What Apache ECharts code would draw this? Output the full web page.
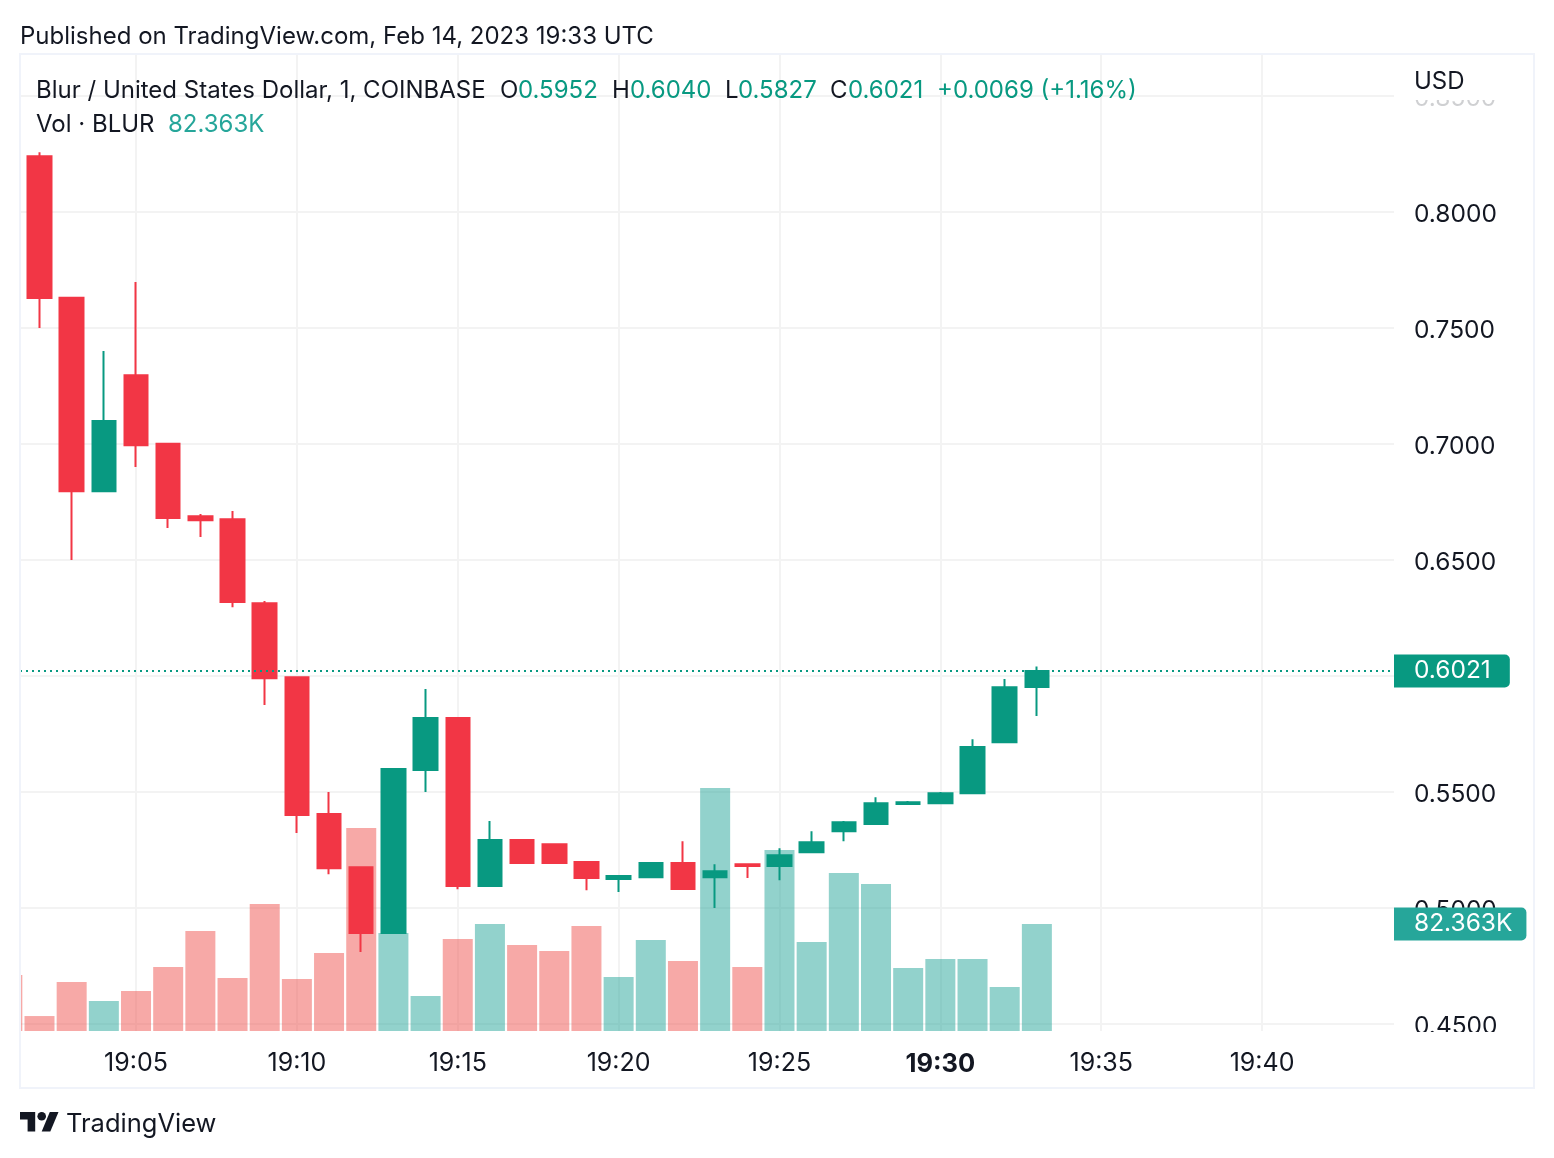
<!DOCTYPE html>
<html>
<head>
<meta charset="utf-8">
<style>
  html, body { margin: 0; padding: 0; background: #fff; }
  #chart { width: 1554px; height: 1158px; }
</style>
<script src="https://cdn.jsdelivr.net/npm/echarts@6/dist/echarts.min.js"></script>
</head>
<body>
<div id="chart"></div>
<script>
const FONT = "Inter";
const TEXT = "#131722";
const UP = "#089981";
const DOWN = "#f23645";

// minute past 19:00, open, close, low, high
const candles = [
  [2, 0.8240, 0.7629, 0.7499, 0.8257],
  [3, 0.7630, 0.6796, 0.6499, 0.7630],
  [4, 0.6796, 0.7098, 0.6796, 0.7400],
  [5, 0.7296, 0.6994, 0.6900, 0.7697],
  [6, 0.7000, 0.6680, 0.6637, 0.7000],
  [7, 0.6688, 0.6671, 0.6598, 0.6697],
  [8, 0.6675, 0.6318, 0.6296, 0.6710],
  [9, 0.6313, 0.5990, 0.5874, 0.6322],
  [10, 0.5994, 0.5400, 0.5322, 0.5994],
  [11, 0.5404, 0.5171, 0.5145, 0.5499],
  [12, 0.5175, 0.4891, 0.4809, 0.5175],
  [13, 0.4891, 0.5598, 0.4891, 0.5598],
  [14, 0.5594, 0.5818, 0.5499, 0.5943],
  [15, 0.5818, 0.5094, 0.5080, 0.5818],
  [16, 0.5094, 0.5292, 0.5094, 0.5374],
  [17, 0.5292, 0.5193, 0.5193, 0.5292],
  [18, 0.5274, 0.5193, 0.5193, 0.5274],
  [19, 0.5197, 0.5128, 0.5076, 0.5197],
  [20, 0.5124, 0.5137, 0.5068, 0.5141],
  [21, 0.5132, 0.5193, 0.5132, 0.5193],
  [22, 0.5193, 0.5081, 0.5081, 0.5287],
  [23, 0.5132, 0.5158, 0.4999, 0.5188],
  [24, 0.5188, 0.5180, 0.5128, 0.5188],
  [25, 0.5180, 0.5227, 0.5119, 0.5257],
  [26, 0.5240, 0.5283, 0.5240, 0.5330],
  [27, 0.5330, 0.5369, 0.5287, 0.5374],
  [28, 0.5361, 0.5451, 0.5361, 0.5477],
  [29, 0.5447, 0.5455, 0.5447, 0.5460],
  [30, 0.5451, 0.5494, 0.5451, 0.5499],
  [31, 0.5494, 0.5693, 0.5494, 0.5727],
  [32, 0.5714, 0.5951, 0.5714, 0.5986],
  [33, 0.5952, 0.6021, 0.5827, 0.6040],
];

// minute, volume in thousands, up bar?
const volumes = [
  [1, 43.1, 0], [2, 11.5, 0], [3, 37.7, 0], [4, 23.1, 1], [5, 30.8, 0],
  [6, 49.3, 0], [7, 77.0, 0], [8, 40.8, 0], [9, 97.8, 0], [10, 40.0, 0],
  [11, 60.0, 0], [12, 156.2, 0], [13, 75.4, 1], [14, 26.9, 1], [15, 70.8, 0],
  [16, 82.4, 1], [17, 66.2, 0], [18, 61.6, 0], [19, 80.8, 0], [20, 41.6, 1],
  [21, 70.0, 1], [22, 53.9, 0], [23, 187.0, 1], [24, 49.3, 0], [25, 139.3, 1],
  [26, 68.5, 1], [27, 121.6, 1], [28, 113.1, 1], [29, 48.5, 1], [30, 55.4, 1],
  [31, 55.4, 1], [32, 33.9, 1], [33, 82.363, 1],
];

const legendParts = [
  { x: 36, y: 91, text: "Blur / United States Dollar, 1, COINBASE", fill: TEXT },
  { x: 500, y: 91, text: "O", fill: TEXT },
  { x: 518, y: 91, text: "0.5952", fill: UP },
  { x: 612, y: 91, text: "H", fill: TEXT },
  { x: 630, y: 91, text: "0.6040", fill: UP },
  { x: 725, y: 91, text: "L", fill: TEXT },
  { x: 738, y: 91, text: "0.5827", fill: UP },
  { x: 830, y: 91, text: "C", fill: TEXT },
  { x: 848, y: 91, text: "0.6021", fill: UP },
  { x: 937, y: 91, text: "+0.0069 (+1.16%)", fill: UP },
  { x: 36, y: 125, text: "Vol · BLUR", fill: TEXT },
  { x: 168, y: 125, text: "82.363K", fill: "#26a69a" },
  { x: 20, y: 37, text: "Published on TradingView.com, Feb 14, 2023 19:33 UTC", fill: TEXT },
  { x: 66, y: 1124, text: "TradingView", fill: TEXT, fontSize: 25.5 },
  { x: 1414, y: 82, text: "USD", fill: TEXT },
];

function priceTag(text, color, padRight) {
  return {
    show: true,
    position: "end",
    distance: 0,
    formatter: text,
    color: "#fff",
    fontFamily: FONT,
    fontSize: 24.5,
    lineHeight: 24,
    backgroundColor: color,
    padding: [6, padRight, 3, 20],
    borderRadius: [0, 5, 5, 0],
  };
}

const graphics = [
  // the first volume bar is cut by the pane edge
  {
    type: "rect",
    shape: { x: 0, y: 960, width: 20, height: 80 },
    style: { fill: "#fff" },
    z: 40,
  },
  // frame
  {
    type: "rect",
    shape: { x: 20, y: 54, width: 1514, height: 1034 },
    style: { fill: "none", stroke: "#f0f3fa", lineWidth: 2 },
    z: 45,
  },
  // price scale labels get cut at the pane edges
  {
    type: "rect",
    shape: { x: 1396, y: 56, width: 136, height: 44 },
    style: { fill: "#fff" },
    z: 50,
  },
  {
    type: "rect",
    shape: { x: 1396, y: 100, width: 136, height: 10 },
    style: { fill: "rgba(255,255,255,0.8)" },
    z: 50,
  },
  {
    type: "rect",
    shape: { x: 1396, y: 1032, width: 136, height: 16 },
    style: { fill: "#fff" },
    z: 50,
  },
  // logo
  {
    type: "polygon",
    shape: {
      points: [[20, 1112], [35.2, 1112], [35.2, 1131.5], [27.6, 1131.5], [27.6, 1119.6], [20, 1119.6]],
    },
    style: { fill: TEXT },
    z: 60,
  },
  {
    type: "polygon",
    shape: {
      points: [[41.7, 1131.5], [50.3, 1131.5], [58.5, 1112], [49.8, 1112]],
    },
    style: { fill: TEXT },
    z: 60,
  },
  {
    type: "circle",
    shape: { cx: 41.7, cy: 1116.3, r: 4.3 },
    style: { fill: TEXT },
    z: 60,
  },
];

legendParts.forEach((part) => {
  graphics.push({
    type: "text",
    x: part.x,
    y: part.y,
    style: {
      text: part.text,
      fill: part.fill,
      font: `${part.fontSize || 24}px ${FONT}`,
      verticalAlign: "middle",
    },
    z: 60,
  });
});

const gridLine = { show: true, lineStyle: { color: "#f3f3f3", width: 2 } };
const xTicks = [5, 10, 15, 20, 25, 30, 35, 40];
const yTicks = [0.45, 0.5, 0.55, 0.6, 0.65, 0.7, 0.75, 0.8, 0.85];

const option = {
  animation: false,
  backgroundColor: "#fff",
  grid: { left: 20, top: 55, width: 1374, height: 976 },
  xAxis: {
    type: "value",
    min: 1.394,
    max: 44.1,
    axisLine: { show: false },
    axisTick: { show: false, customValues: xTicks },
    splitLine: gridLine,
    axisLabel: {
      customValues: xTicks,
      margin: 20,
      color: TEXT,
      fontFamily: FONT,
      fontSize: 25,
      formatter: (value) => {
        const label = `19:${String(value).padStart(2, "0")}`;
        return value === 30 ? `{strong|${label}}` : label;
      },
      rich: {
        strong: { fontWeight: "bold", fontFamily: FONT, fontSize: 25.5, color: TEXT },
      },
    },
  },
  yAxis: [
    {
      type: "value",
      position: "right",
      min: 0.4469,
      max: 0.8676,
      axisLine: { show: false },
      axisTick: { show: false, customValues: yTicks },
      splitLine: gridLine,
      axisLabel: {
        customValues: yTicks,
        margin: 20,
        color: TEXT,
        fontFamily: FONT,
        fontSize: 24.5,
        formatter: (value) => `{price|${value.toFixed(4)}}`,
        rich: {
          price: {
            padding: [5, 0, 0, 0],
            fontFamily: FONT,
            fontSize: 24.5,
            color: TEXT,
          },
        },
      },
    },
    {
      type: "value",
      min: 0,
      max: 751,
      show: false,
      splitLine: { show: false },
    },
  ],
  series: [
    {
      name: "Vol",
      type: "bar",
      yAxisIndex: 1,
      barWidth: 30,
      z: 2,
      data: volumes.map(([minute, volume, up]) => ({
        value: [minute, volume],
        itemStyle: { color: up ? "#26a69a" : "#ef5350", opacity: 0.5 },
      })),
      markLine: {
        silent: true,
        symbol: "none",
        precision: 3,
        lineStyle: { color: "transparent", width: 0 },
        label: priceTag("82.363K", "#26a69a", 14),
        data: [{ yAxis: 82.363 }],
      },
    },
    {
      name: "Blur / United States Dollar",
      type: "candlestick",
      barWidth: 24,
      z: 3,
      encode: { x: 0, y: [1, 2, 3, 4] },
      data: candles,
      itemStyle: {
        color: UP,
        color0: DOWN,
        borderColor: UP,
        borderColor0: DOWN,
        borderWidth: 2,
      },
      markLine: {
        silent: true,
        symbol: "none",
        precision: 4,
        lineStyle: { color: UP, type: [2, 4], width: 2 },
        label: priceTag("0.6021", UP, 19),
        data: [{ yAxis: 0.6021 }],
      },
    },
  ],
  graphic: graphics,
};

const chart = echarts.init(document.getElementById("chart"));
chart.setOption(option);
window.addEventListener("resize", chart.resize);
</script>
</body>
</html>
